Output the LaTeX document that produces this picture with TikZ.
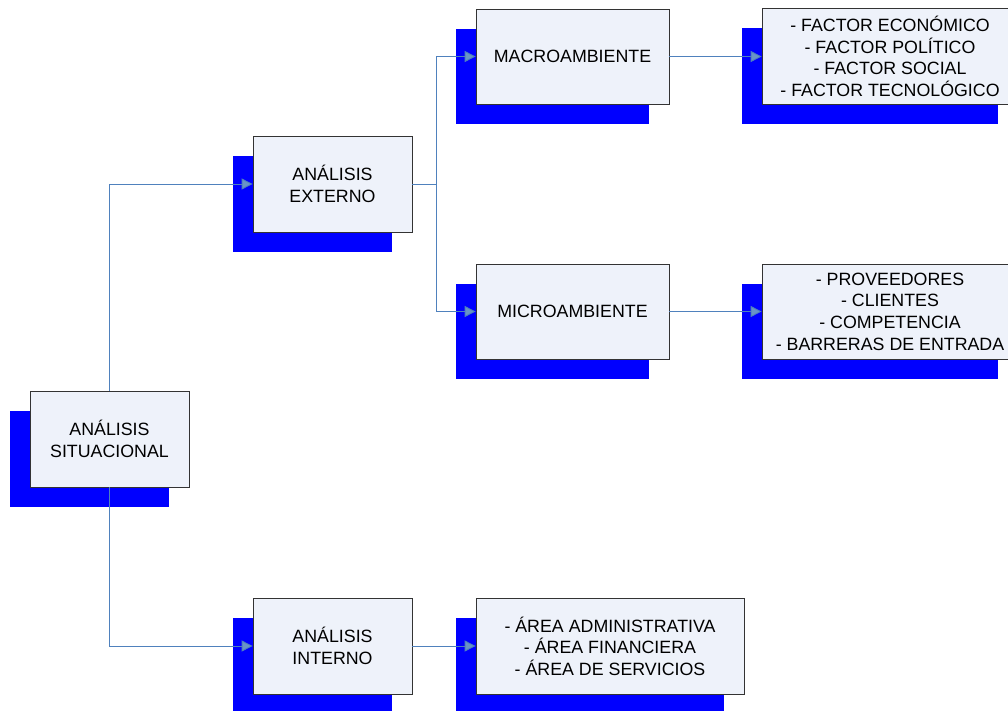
\documentclass[tikz,border=0pt]{standalone}
\usepackage{fontspec}
\setmainfont{Liberation Sans}
\usetikzlibrary{arrows.meta,shadows}
\definecolor{linkblue}{RGB}{79,129,189}
\definecolor{boxfill}{RGB}{238,242,250}
\begin{document}
\begin{tikzpicture}[x=1pt,y=-1pt,
  box/.style={draw=black!80,line width=0.8pt,fill=boxfill,align=center,
    inner sep=0pt,font=\fontsize{17.8}{21.6}\selectfont,
    general shadow={fill=blue,shadow xshift=-20pt,shadow yshift=-20pt}},
  link/.style={draw=linkblue,line width=0.9pt,
    -{Triangle[length=11pt,width=11pt,fill=linkblue!85]}}]
  \useasboundingbox (0,0) rectangle (1008,711);
  \node[box,minimum width=159pt,minimum height=96pt] (sit) at (109.5,439) {ANÁLISIS\\SITUACIONAL};
  \node[box,minimum width=159pt,minimum height=96pt] (ext) at (332.5,184) {ANÁLISIS\\EXTERNO};
  \node[box,minimum width=159pt,minimum height=96pt] (int) at (332.5,646) {ANÁLISIS\\INTERNO};
  \node[box,minimum width=193pt,minimum height=95pt] (macro) at (572.5,56.5) {MACROAMBIENTE};
  \node[box,minimum width=193pt,minimum height=95pt] (micro) at (572.5,311.5) {MICROAMBIENTE};
  \node[box,minimum width=256pt,minimum height=96pt] (factor) at (890,56.5)
    {- FACTOR ECONÓMICO\\- FACTOR POLÍTICO\\- FACTOR SOCIAL\\- FACTOR TECNOLÓGICO};
  \node[box,minimum width=256pt,minimum height=95pt] (prov) at (890,311.5)
    {- PROVEEDORES\\- CLIENTES\\- COMPETENCIA\\- BARRERAS DE ENTRADA};
  \node[box,minimum width=268pt,minimum height=96pt] (area) at (610,646)
    {- ÁREA ADMINISTRATIVA\\- ÁREA FINANCIERA\\- ÁREA DE SERVICIOS};
  % connectors
  \draw[link] (sit.north) |- (ext.west);
  \draw[link] (sit.south) |- (int.west);
  \draw[linkblue,line width=0.9pt] (ext.east) -- ++(24,0) coordinate (split);
  \draw[link] (split) |- (macro.west);
  \draw[link] (split) |- (micro.west);
  \draw[link] (macro.east) -- (factor.west);
  \draw[link] (micro.east) -- (prov.west);
  \draw[link] (int.east) -- (area.west);
\end{tikzpicture}
\end{document}
